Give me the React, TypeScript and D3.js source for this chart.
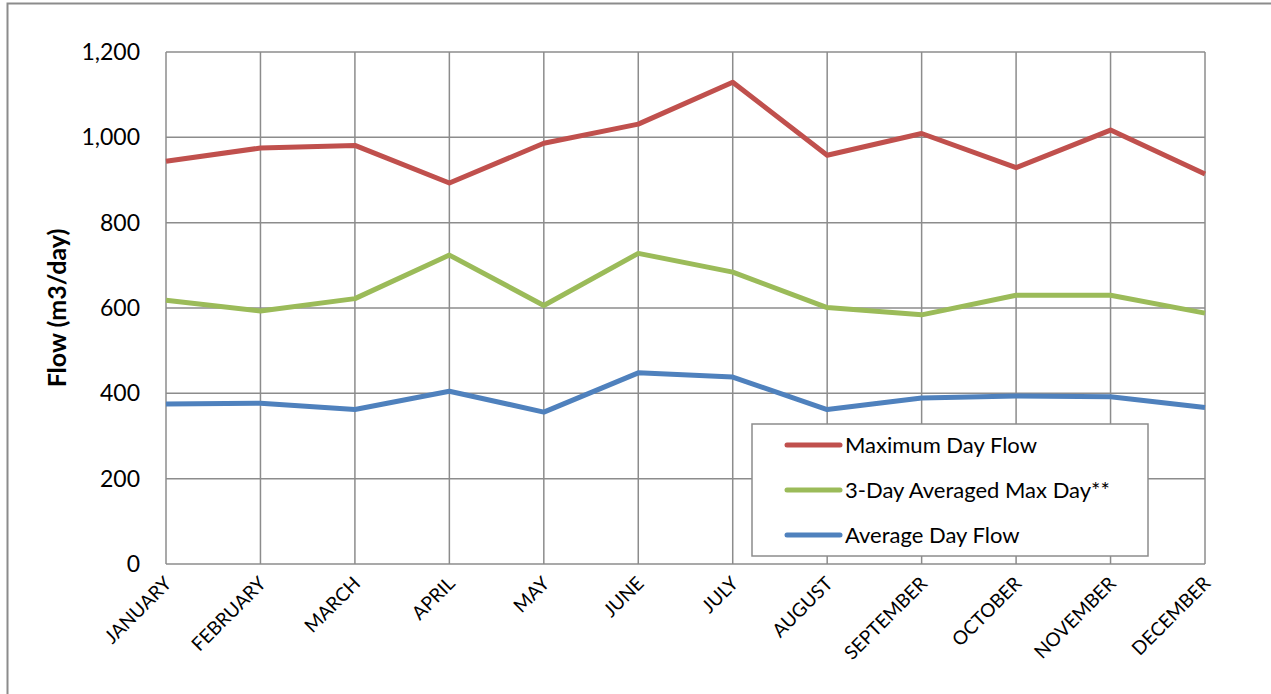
import * as d3 from 'd3';

const W = 1271;
const H = 694;
const margin = { left: 166, top: 52, right: 66, bottom: 130 };

const months = ['JANUARY', 'FEBRUARY', 'MARCH', 'APRIL', 'MAY', 'JUNE', 'JULY', 'AUGUST', 'SEPTEMBER', 'OCTOBER', 'NOVEMBER', 'DECEMBER'];
const maxDayFlow = [944, 975, 981, 893, 986, 1031, 1129, 958, 1009, 929, 1017, 914];
const threeDayMax = [618, 593, 622, 724, 606, 728, 684, 601, 584, 630, 630, 588];
const avgDayFlow = [375, 377, 362, 405, 356, 448, 438, 362, 389, 394, 392, 367];
const yTicks = [0, 200, 400, 600, 800, 1000, 1200];

const series = [
  { name: 'Maximum Day Flow', values: maxDayFlow, color: '#C0504D' },
  { name: '3-Day Averaged Max Day**', values: threeDayMax, color: '#9BBB59' },
  { name: 'Average Day Flow', values: avgDayFlow, color: '#4F81BD' },
];

const x = d3.scalePoint<string>().domain(months).range([margin.left, W - margin.right]);
const y = d3.scaleLinear().domain([0, 1200]).range([H - margin.bottom, margin.top]);
const font = 'Lato, "Open Sans", sans-serif';
const grid = '#8c8c8c';

export default function App() {
  const line = d3.line<number>().x((_, i) => x(months[i])!).y(d => y(d));
  const fmt = d3.format(',');
  return (
    <svg width={W} height={H} style={{ position: 'absolute', left: 0, top: 0 }}>
      <rect x={0} y={0} width={W} height={H} fill="#fff" />
      <rect x={7.5} y={3.5} width={W + 20} height={H + 20} fill="none" stroke="#8c8c8c" strokeWidth={2} />
      {yTicks.map(t => (
        <g key={t}>
          <line x1={margin.left} x2={W - margin.right} y1={y(t)} y2={y(t)} stroke={grid} strokeWidth={1.5} />
          <text x={140} y={y(t)} dy="0.35em" textAnchor="end" fontFamily={font} fontSize={23} fill="#000">{fmt(t)}</text>
        </g>
      ))}
      {months.map(m => (
        <g key={m}>
          <line x1={x(m)} x2={x(m)} y1={margin.top} y2={H - margin.bottom} stroke={grid} strokeWidth={1.5} />
          <text transform={`translate(${x(m)! + 2},${H - margin.bottom + 16}) rotate(-45)`} textAnchor="end" dy="0.35em"
            fontFamily={font} fontSize={19} fill="#000">{m}</text>
        </g>
      ))}
      <text transform={`translate(57,${(margin.top + H - margin.bottom) / 2}) rotate(-90)`} textAnchor="middle" dy="0.35em"
        fontFamily={font} fontSize={25} fontWeight="bold" fill="#000">Flow (m3/day)</text>
      {series.map(s => (
        <path key={s.name} d={line(s.values)!} fill="none" stroke={s.color} strokeWidth={5} strokeLinejoin="round" />
      ))}
      <g>
        <rect x={752} y={424} width={396} height={132} fill="#fff" stroke={grid} strokeWidth={1.5} />
        {series.map((s, i) => (
          <g key={s.name} transform={`translate(0,${445 + i * 45})`}>
            <line x1={787} x2={840} y1={0} y2={0} stroke={s.color} strokeWidth={5} strokeLinecap="round" />
            <text x={845} y={0} dy="0.35em" fontFamily={font} fontSize={22} fill="#000">{s.name}</text>
          </g>
        ))}
      </g>
    </svg>
  );
}
